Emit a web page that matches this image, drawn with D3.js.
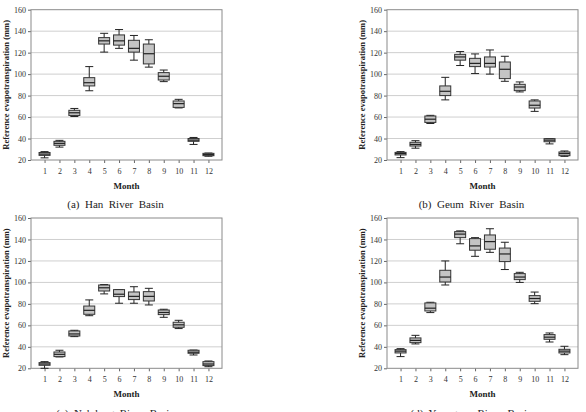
<!DOCTYPE html>
<html lang="en">
<head>
<meta charset="utf-8">
<title>Reference evapotranspiration boxplots</title>
<script src="https://d3js.org/d3.v7.min.js"></script>
<style>
  body { margin: 0; background: #fff; }
  svg text { font-family: "Liberation Serif", "DejaVu Serif", serif !important; fill: #222; }
  .tick text { font-size: 8px; fill: #333; }
  .grid line { stroke: #cfcfcf; stroke-width: 1; }
  .frame { fill: none; stroke: #8a8a8a; stroke-width: 1; }
  .box { fill: #c4c4c4; stroke: #333; stroke-width: 1; }
  .whisk { stroke: #222; stroke-width: 1; }
  .med { stroke: #222; stroke-width: 1.2; }
</style>
</head>
<body>
<script>
// months on the x axis
var months = [1, 2, 3, 4, 5, 6, 7, 8, 9, 10, 11, 12];
var yTicks = [20, 40, 60, 80, 100, 120, 140, 160];

// (a) Han River Basin
var hanMin = [22, 32, 60.5, 84.5, 120.5, 124, 113, 106.5, 93, 68.5, 34.5, 23.5];
var hanQ1  = [24.3, 33.7, 61.5, 89, 128, 127, 120.5, 109.5, 94.5, 69, 37.4, 24];
var hanMed = [25.5, 35.5, 64, 92, 131, 131, 124, 119, 98, 72.5, 38.5, 25];
var hanQ3  = [27, 37.4, 66.3, 96.7, 134, 136.5, 131.5, 128, 101.4, 75, 40, 26.2];
var hanMax = [27.8, 38.3, 68, 107, 138, 141.5, 136, 132, 103.8, 76.5, 41, 26.5];

// (b) Geum River Basin
var geumMin = [22.2, 31, 54, 76, 108, 100.5, 100, 93.3, 83.4, 65.3, 35, 23.4];
var geumQ1  = [24.7, 33, 55, 80, 113, 107, 106.6, 95.8, 84.6, 68.4, 37, 24];
var geumMed = [26, 34.5, 58, 84, 116, 110, 110, 104.5, 88, 71, 38.5, 26];
var geumQ3  = [27.1, 36.5, 61, 89, 118.4, 114.7, 116, 111.3, 90.5, 75, 39.9, 27.5];
var geumMax = [27.8, 38, 61.6, 97, 121, 118.8, 122.5, 116.6, 92.7, 76, 40, 28.4];

// (c) Nakdong River Basin
var nakMin = [20, 30.6, 49.5, 69, 89.3, 80.6, 80.6, 79, 67.5, 57, 32.4, 21.5];
var nakQ1  = [22.8, 30.9, 50.1, 70.3, 92, 86.8, 84, 82.7, 70, 58.2, 34, 22.5];
var nakMed = [24, 33, 52, 74, 95, 89, 87, 87, 72, 60.5, 35, 24];
var nakQ3  = [25.3, 35.2, 54.8, 78, 97.6, 93.3, 91.1, 91.4, 74.3, 62.9, 36.8, 26.2];
var nakMax = [26.2, 36.8, 55.4, 83.7, 98, 93.3, 96, 94.5, 75, 64.7, 37, 26.8];

// (d) Youngsan River Basin
var youMin = [30.9, 42.7, 71.9, 97.6, 136, 124.3, 128, 112, 100, 80.2, 44.5, 32.7];
var youQ1  = [34.3, 43.9, 73.4, 100.4, 141.7, 130, 130.9, 119.4, 102.6, 82.4, 47, 34.3];
var youMed = [36, 46, 76, 105, 145, 134, 138, 126.5, 105, 85, 49, 36];
var youQ3  = [37.4, 48.3, 80.9, 111.3, 147.3, 140.8, 144.2, 132, 108.2, 87.7, 51.4, 37.7];
var youMax = [38.3, 50.7, 81.5, 120, 148, 141.7, 150, 137.4, 109.4, 91, 52.9, 40.5];

var panels = [
  {caption: "(a)  Han  River  Basin", x: 31, y: 9.7, min: hanMin, q1: hanQ1, med: hanMed, q3: hanQ3, max: hanMax},
  {caption: "(b)  Geum  River  Basin", x: 387, y: 9.7, min: geumMin, q1: geumQ1, med: geumMed, q3: geumQ3, max: geumMax},
  {caption: "(c)  Nakdong  River  Basin", x: 31, y: 218, min: nakMin, q1: nakQ1, med: nakMed, q3: nakQ3, max: nakMax},
  {caption: "(d)  Youngsan  River  Basin", x: 387, y: 218, min: youMin, q1: youQ1, med: youMed, q3: youQ3, max: youMax}
];

var width = 191, height = 150.3, boxW = 11, capW = 8;

var svg = d3.select("body").append("svg")
  .attr("width", 586)
  .attr("height", 412)
  .attr("font-family", "Liberation Serif, serif");

var xScale = d3.scalePoint().domain(months).range([0, width]).padding(0.91);
var yScale = d3.scaleLinear().domain([20, 160]).range([height, 0]);

panels.forEach(function(p) {
  var g = svg.append("g").attr("transform", "translate(" + p.x + "," + p.y + ")");

  // horizontal gridlines
  g.append("g").attr("class", "grid")
    .selectAll("line").data(yTicks.slice(1, -1)).enter().append("line")
    .attr("x1", 0).attr("x2", width)
    .attr("y1", function(d) { return yScale(d); })
    .attr("y2", function(d) { return yScale(d); });

  // y axis
  var ya = g.append("g").call(d3.axisLeft(yScale).tickValues(yTicks).tickSize(3).tickPadding(2))
    .attr("font-family", "Liberation Serif, serif");
  ya.select(".domain").remove();
  ya.selectAll(".tick line").attr("stroke", "#666");

  // x axis
  var xa = g.append("g").attr("transform", "translate(0," + height + ")")
    .call(d3.axisBottom(xScale).tickSize(3).tickPadding(5))
    .attr("font-family", "Liberation Serif, serif");
  xa.select(".domain").remove();
  xa.selectAll(".tick line").attr("stroke", "#666");

  g.append("rect").attr("class", "frame")
    .attr("x", 0).attr("y", 0).attr("width", width).attr("height", height);

  var bx = g.selectAll(".bp").data(months).enter().append("g").attr("class", "bp")
    .attr("transform", function(d) { return "translate(" + xScale(d) + ",0)"; });

  // whiskers
  bx.append("line").attr("class", "whisk")
    .attr("x1", 0).attr("x2", 0)
    .attr("y1", function(d, i) { return yScale(p.max[i]); })
    .attr("y2", function(d, i) { return yScale(p.min[i]); });
  bx.append("line").attr("class", "whisk")
    .attr("x1", -capW / 2).attr("x2", capW / 2)
    .attr("y1", function(d, i) { return yScale(p.max[i]); })
    .attr("y2", function(d, i) { return yScale(p.max[i]); });
  bx.append("line").attr("class", "whisk")
    .attr("x1", -capW / 2).attr("x2", capW / 2)
    .attr("y1", function(d, i) { return yScale(p.min[i]); })
    .attr("y2", function(d, i) { return yScale(p.min[i]); });

  // boxes
  bx.append("rect").attr("class", "box")
    .attr("x", -boxW / 2).attr("width", boxW)
    .attr("y", function(d, i) { return yScale(p.q3[i]); })
    .attr("height", function(d, i) { return yScale(p.q1[i]) - yScale(p.q3[i]); });

  // median
  bx.append("line").attr("class", "med")
    .attr("x1", -boxW / 2).attr("x2", boxW / 2)
    .attr("y1", function(d, i) { return yScale(p.med[i]); })
    .attr("y2", function(d, i) { return yScale(p.med[i]); });

  // titles
  g.append("text")
    .attr("transform", "translate(-22," + (height / 2) + ") rotate(-90)")
    .attr("text-anchor", "middle")
    .style("font-size", "8.5px").style("font-weight", "bold")
    .text("Reference evapotranspiration (mm)");

  g.append("text")
    .attr("x", width / 2).attr("y", height + 29)
    .attr("text-anchor", "middle")
    .style("font-size", "9px").style("font-weight", "bold")
    .text("Month");

  g.append("text")
    .attr("x", width / 2 - 11).attr("y", height + 48.5)
    .attr("text-anchor", "middle")
    .style("font-size", "11px").style("white-space", "pre")
    .text(p.caption);
});
</script>
</body>
</html>
